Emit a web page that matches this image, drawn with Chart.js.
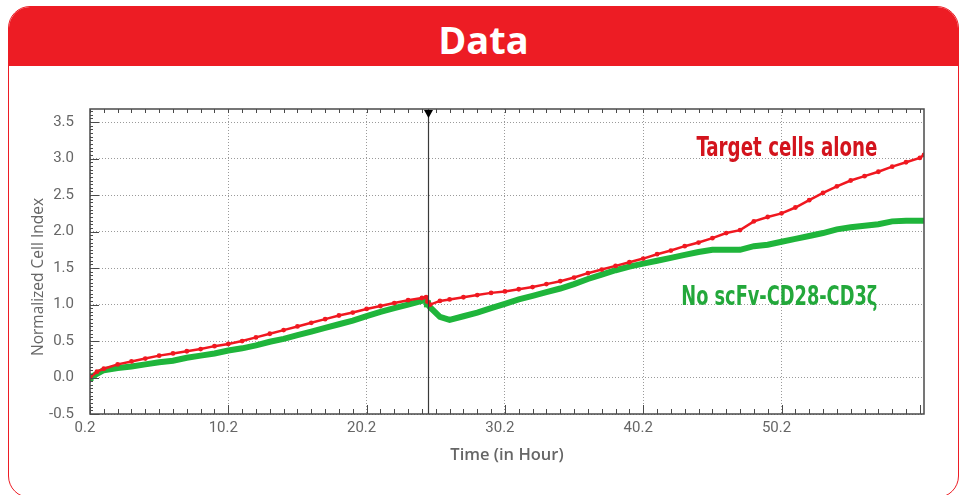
<!DOCTYPE html>
<html>
<head>
<meta charset="utf-8">
<title>Data</title>
<script src="https://cdn.jsdelivr.net/npm/chart.js@4.4.0/dist/chart.umd.min.js"></script>
<style>
    html, body { margin: 0; padding: 0; background: #fff; }
    body { width: 966px; height: 495px; position: relative; overflow: hidden; }
    .card {
        position: absolute; left: 8px; top: 6px; width: 951px; height: 492px;
        border: 1.5px solid #ed1c24; border-radius: 22px; box-sizing: border-box; overflow: hidden;
    }
    .card-head {
        height: 59px; background: #ed1c24; color: #fff; text-align: center;
        font-family: "Open Sans", sans-serif; font-weight: bold; font-size: 38px; line-height: 64px;
    }
    #chartData { position: absolute; left: 0; top: 0; }
</style>
</head>
<body>
<div class="card"><div class="card-head">Data</div></div>
<canvas id="chartData" width="966" height="495"></canvas>
<script>
//valeurs (heures / cell index)
const timeHours = [0.2, 0.7, 1.2, 2.2, 3.2, 4.2, 5.2, 6.2, 7.2, 8.2, 9.2, 10.2, 11.2, 12.2, 13.2, 14.2, 15.2,
    16.2, 17.2, 18.2, 19.2, 20.2, 21.2, 22.2, 23.2, 24.2, 24.5, 24.6, 24.8, 25.5, 26.2, 27.2, 28.2, 29.2, 30.2,
    31.2, 32.2, 33.2, 34.2, 35.2, 36.2, 37.2, 38.2, 39.2, 40.2, 41.2, 42.2, 43.2, 44.2, 45.2, 46.2, 47.2, 48.2,
    49.2, 50.2, 51.2, 52.2, 53.2, 54.2, 55.2, 56.2, 57.2, 58.2, 59.2, 60.2, 60.5];
const targetCellsAlone = [0.00, 0.08, 0.12, 0.18, 0.22, 0.26, 0.30, 0.33, 0.36, 0.39, 0.43, 0.46, 0.50, 0.55, 0.60, 0.65, 0.70,
    0.75, 0.80, 0.85, 0.89, 0.94, 0.98, 1.02, 1.06, 1.09, 1.10, 1.04, 1.00, 1.05, 1.07, 1.10, 1.13, 1.16, 1.18,
    1.21, 1.24, 1.28, 1.32, 1.37, 1.43, 1.48, 1.53, 1.58, 1.63, 1.69, 1.74, 1.80, 1.85, 1.91, 1.98, 2.02, 2.14,
    2.20, 2.25, 2.33, 2.43, 2.53, 2.62, 2.70, 2.76, 2.82, 2.89, 2.95, 3.01, 3.05];
const noScfvCd28 = [0.00, 0.05, 0.10, 0.13, 0.15, 0.18, 0.21, 0.23, 0.27, 0.30, 0.33, 0.37, 0.40, 0.44, 0.49, 0.53, 0.58,
    0.63, 0.68, 0.73, 0.78, 0.84, 0.90, 0.95, 1.00, 1.05, 1.06, 1.01, 0.96, 0.83, 0.79, 0.84, 0.89, 0.95, 1.01,
    1.07, 1.12, 1.17, 1.22, 1.28, 1.35, 1.41, 1.47, 1.52, 1.56, 1.60, 1.64, 1.68, 1.72, 1.75, 1.75, 1.75, 1.80,
    1.82, 1.86, 1.90, 1.94, 1.98, 2.03, 2.06, 2.08, 2.10, 2.14, 2.15, 2.15, 2.15];

//graduations
const xTickValues = [0.2, 10.2, 20.2, 30.2, 40.2, 50.2];
const yTickValues = [-0.5, 0.0, 0.5, 1.0, 1.5, 2.0, 2.5, 3.0, 3.5];
const markerHour = 24.64;

const grayText = '#666666';

//cadre, petites graduations, ligne verticale, textes
const framePlugin = {
    id: 'cadre',
    afterDatasetsDraw(chart) {
        const ctx = chart.ctx;
        const a = chart.chartArea;
        const x = chart.scales.x;
        const y = chart.scales.y;
        ctx.save();

        //ligne verticale + triangle
        let mx = Math.round(x.getPixelForValue(markerHour)) + 0.5;
        ctx.strokeStyle = '#3a3a3a';
        ctx.lineWidth = 1.2;
        ctx.beginPath();
        ctx.moveTo(mx, a.top);
        ctx.lineTo(mx, a.bottom);
        ctx.stroke();
        ctx.fillStyle = '#000';
        ctx.beginPath();
        ctx.moveTo(mx - 4.5, a.top + 1);
        ctx.lineTo(mx + 4.5, a.top + 1);
        ctx.lineTo(mx, a.top + 9);
        ctx.closePath();
        ctx.fill();

        //cadre
        ctx.strokeStyle = '#4a4a4a';
        ctx.lineWidth = 1.5;
        ctx.strokeRect(a.left, a.top, a.right - a.left, a.bottom - a.top);

        //graduations bas et haut (toutes les heures)
        ctx.lineWidth = 1;
        ctx.beginPath();
        for (let k = 0; 0.2 + k <= 60.5; k++) {
            let px = Math.round(x.getPixelForValue(0.2 + k)) + 0.5;
            let len = (k % 10 === 0) ? 9 : 5;
            ctx.moveTo(px, a.bottom);
            ctx.lineTo(px, a.bottom - len);
            ctx.moveTo(px, a.top);
            ctx.lineTo(px, a.top + 4);
        }
        //graduations gauche (0.05)
        for (let k = -10; k * 0.05 <= 3.68; k++) {
            let py = Math.round(y.getPixelForValue(k * 0.05)) + 0.5;
            let len = (k % 10 === 0) ? 9 : 3;
            ctx.moveTo(a.left, py);
            ctx.lineTo(a.left + len, py);
        }
        ctx.stroke();

        //titre axe y
        ctx.fillStyle = grayText;
        ctx.font = '15.5px "Open Sans"';
        ctx.textAlign = 'center';
        ctx.textBaseline = 'middle';
        ctx.translate(39, 277);
        ctx.rotate(-Math.PI / 2);
        ctx.fillText('Normalized Cell Index', 0, 0);
        ctx.restore();

        //étiquettes des courbes
        ctx.save();
        ctx.textAlign = 'left';
        ctx.textBaseline = 'alphabetic';
        ctx.font = 'bold 27px "DejaVu Sans Condensed"';
        ctx.fillStyle = '#d3141d';
        ctx.fillText('Target cells alone', x.getPixelForValue(44.05), y.getPixelForValue(3.04), 181);
        ctx.fillStyle = '#23a83b';
        ctx.fillText('No scFv-CD28-CD3ζ', x.getPixelForValue(42.95), y.getPixelForValue(0.99), 196);
        ctx.restore();
    }
};

const ctx1 = document.getElementById('chartData').getContext('2d');
const chartData = new Chart(ctx1, {
    type: 'line',
    data: {
        datasets: [{
                label: 'Target cells alone',
                data: timeHours.map((h, i) => ({ x: h, y: targetCellsAlone[i] })),
                borderColor: '#f01820',
                backgroundColor: '#f01820',
                borderWidth: 2.5,
                pointRadius: 2.4,
                pointBorderWidth: 0,
                tension: 0,
                order: 1,
            },
            {
                label: 'No scFv-CD28-CD3ζ',
                data: timeHours.map((h, i) => ({ x: h, y: noScfvCd28[i] })),
                borderColor: '#1fb53b',
                backgroundColor: '#1fb53b',
                borderWidth: 6,
                pointStyle: 'rect',
                pointRadius: (c) => (c.dataIndex === 0 || c.dataIndex === 27) ? 5 : 0,
                pointBorderWidth: 0,
                tension: 0,
                order: 2,
            }
        ]
    },
    options: {
        responsive: false,
        animation: false,
        layout: { padding: { top: 109, right: 42, left: 0, bottom: 0 } },
        plugins: {
            legend: { display: false },
            tooltip: { enabled: false }
        },
        scales: {
            x: {
                type: 'linear',
                bounds: 'data',
                min: 0.2,
                max: 60.5,
                afterFit: (s) => { s.height = 81; },
                afterBuildTicks: (s) => { s.ticks = xTickValues.map(v => ({ value: v })); },
                grid: { color: '#9a9a9a', lineWidth: 1, drawTicks: false },
                border: { display: false, dash: [1, 2] },
                ticks: {
                    padding: 5,
                    labelOffset: -5,
                    maxRotation: 0,
                    autoSkip: false,
                    color: grayText,
                    font: { family: 'Roboto', size: 15 },
                    callback: (v) => Number(v).toFixed(1)
                },
                title: {
                    display: true,
                    text: 'Time (in Hour)',
                    color: grayText,
                    font: { family: 'Open Sans', size: 16.5, weight: '600' },
                    padding: 30
                }
            },
            y: {
                type: 'linear',
                bounds: 'data',
                min: -0.5,
                max: 3.68,
                afterFit: (s) => { s.width = 90; },
                afterBuildTicks: (s) => { s.ticks = yTickValues.map(v => ({ value: v })); },
                grid: { color: '#9a9a9a', lineWidth: 1, drawTicks: false },
                border: { display: false, dash: [1, 2] },
                ticks: {
                    padding: 16,
                    autoSkip: false,
                    color: grayText,
                    font: { family: 'Roboto', size: 15 },
                    callback: (v) => Number(v).toFixed(1)
                }
            }
        }
    },
    plugins: [framePlugin]
});
</script>
</body>
</html>
